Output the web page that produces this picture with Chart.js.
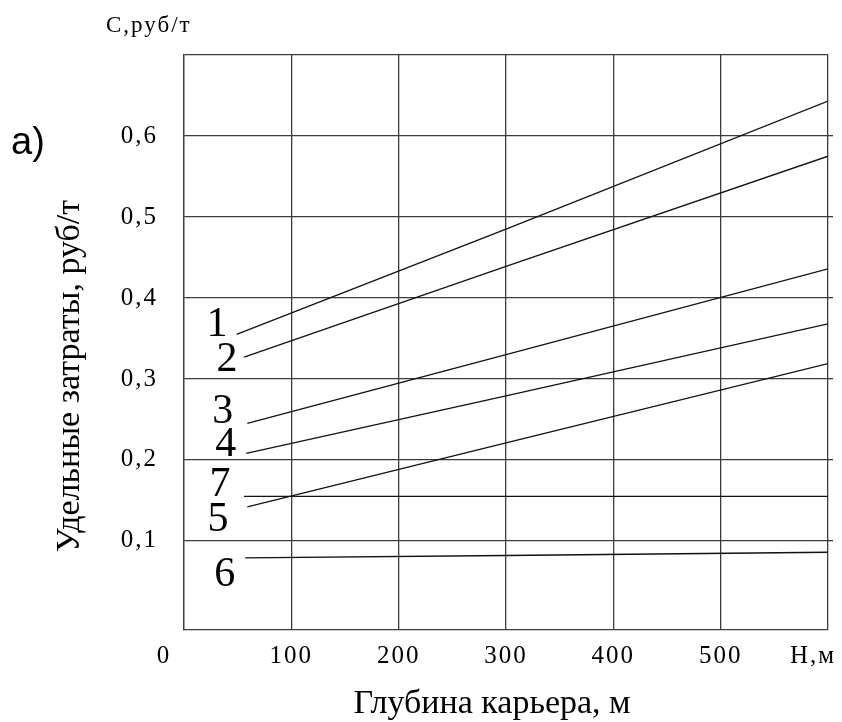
<!DOCTYPE html>
<html>
<head>
<meta charset="utf-8">
<script src="https://cdn.jsdelivr.net/npm/chart.js@4.4.1/dist/chart.umd.min.js"></script>
<style>
  body { margin: 0; background: #fff; }
  canvas { display: block; }
</style>
</head>
<body>
<canvas id="myChart" width="842" height="722"></canvas>
<script>
// depth of the pit, m  /  specific costs, rub/t
const depth1 = [49, 300, 600];
const cost1 = [0.355, 0.485, 0.643];
const depth2 = [56, 300, 600];
const cost2 = [0.327, 0.439, 0.575];
const depth3 = [59, 300, 600];
const cost3 = [0.245, 0.330, 0.436];
const depth4 = [58, 300, 600];
const cost4 = [0.208, 0.279, 0.368];
const depth5 = [59, 300, 600];
const cost5 = [0.142, 0.221, 0.319];
const depth6 = [57, 300, 600];
const cost6 = [0.079, 0.082, 0.086];
const depth7 = [56, 300, 600];
const cost7 = [0.155, 0.155, 0.155];

const curveNames = ['1', '2', '3', '4', '7', '5', '6'];
const curveNameDepth = [30.7, 40, 36, 39, 33.5, 31.6, 38];
const curveNameCost = [0.367, 0.324, 0.259, 0.218, 0.169, 0.126, 0.058];

const yTicks = [0.1, 0.2, 0.3, 0.4, 0.5, 0.6, 0.7];
const xTitle = 'Глубина карьера, м';
const yTitle = 'Удельные затраты, руб/т';

const pts = (xs, ys) => xs.map((x, i) => ({x: x, y: ys[i]}));
const line = (xs, ys) => ({
    data: pts(xs, ys),
    borderColor: '#111',
    borderWidth: 1.3,
    pointRadius: 0,
    tension: 0,
    fill: false
});

const gridColor = '#3c3c3c';
const tickFont = {family: 'Liberation Serif', size: 25};

const texts = {
    id: 'texts',
    beforeDraw(chart) {
        chart.ctx.letterSpacing = '2px';
    },
    afterDraw(chart) {
        const ctx = chart.ctx;
        const x = chart.scales.x;
        const y = chart.scales.y;
        ctx.save();
        ctx.fillStyle = '#000';

        // curve numbers
        ctx.letterSpacing = '0px';
        ctx.font = '42px "Liberation Serif"';
        ctx.textAlign = 'center';
        ctx.textBaseline = 'middle';
        curveNames.forEach((n, i) => {
            ctx.fillText(n, x.getPixelForValue(curveNameDepth[i]), y.getPixelForValue(curveNameCost[i]));
        });

        // corner labels of the x axis
        ctx.letterSpacing = '2px';
        ctx.font = '25px "Liberation Serif"';
        ctx.fillText('0', x.getPixelForValue(0) - 20, 656);
        ctx.fillText('Н,м', x.getPixelForValue(600) - 15, 656);

        // unit above the y axis
        ctx.letterSpacing = '2px';
        ctx.font = '23px "Liberation Serif"';
        ctx.textAlign = 'left';
        ctx.textBaseline = 'alphabetic';
        ctx.fillText('С,руб/т', 106, 32);

        // axis titles
        ctx.letterSpacing = '0px';
        ctx.font = '34px "Liberation Serif"';
        ctx.textAlign = 'center';
        ctx.fillText(xTitle, 492, 713);
        ctx.save();
        ctx.translate(79, 376);
        ctx.rotate(-Math.PI / 2);
        ctx.fillText(yTitle, 0, 0);
        ctx.restore();

        ctx.font = '38px "Liberation Sans"';
        ctx.textAlign = 'left';
        ctx.fillText('а)', 11, 154);
        ctx.restore();
    }
};

const ctx1 = document.getElementById('myChart');
const myChart = new Chart(ctx1, {
    type: 'line',
    data: {
        datasets: [
            line(depth1, cost1),
            line(depth2, cost2),
            line(depth3, cost3),
            line(depth4, cost4),
            line(depth5, cost5),
            line(depth6, cost6),
            line(depth7, cost7)
        ]
    },
    options: {
        responsive: false,
        animation: false,
        layout: {
            padding: {left: 0, right: 9, top: 55, bottom: 0}
        },
        plugins: {
            legend: {display: false},
            tooltip: {enabled: false}
        },
        scales: {
            x: {
                type: 'linear',
                min: 0,
                max: 600,
                afterFit: s => { s.height = 92; },
                grid: {color: gridColor, lineWidth: 1.3, drawTicks: false},
                border: {color: gridColor, width: 1.3},
                ticks: {
                    stepSize: 100,
                    padding: 11,
                    color: '#000',
                    font: tickFont,
                    maxRotation: 0,
                    callback: v => (v === 0 || v === 600) ? '' : String(v)
                }
            },
            y: {
                type: 'linear',
                min: -0.01,
                max: 0.7,
                afterFit: s => { s.width = 184; },
                afterBuildTicks: s => { s.ticks = yTicks.map(v => ({value: v})); },
                grid: {color: gridColor, lineWidth: 1.3, drawTicks: false},
                border: {color: gridColor, width: 1.3},
                ticks: {
                    padding: 26,
                    color: '#000',
                    font: tickFont,
                    callback: v => v >= 0.65 ? '' : v.toFixed(1).replace('.', ',')
                }
            },
            yRight: {
                type: 'linear',
                position: 'right',
                min: -0.01,
                max: 0.7,
                afterBuildTicks: s => { s.ticks = yTicks.slice(0, 6).map(v => ({value: v})); },
                afterFit: s => { s.width = 5; },
                grid: {color: gridColor, lineWidth: 1.3, drawOnChartArea: false, drawTicks: true, tickLength: 5},
                border: {display: false},
                ticks: {display: false}
            }
        }
    },
    plugins: [texts]
});
</script>
</body>
</html>
